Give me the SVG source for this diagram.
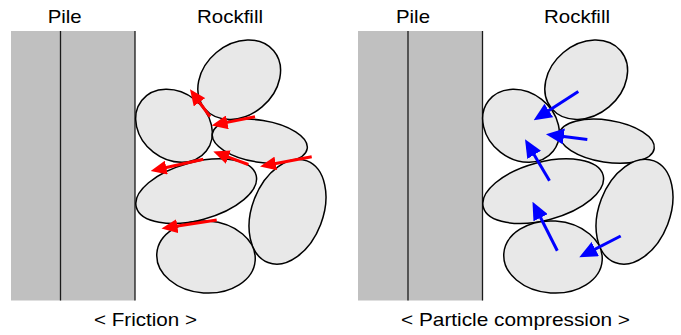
<svg xmlns="http://www.w3.org/2000/svg" width="681" height="335" viewBox="0 0 681 335">
  <style>
    .label { font-family: "Liberation Sans", Arial, sans-serif; font-size: 18.5px; fill: #000; }
    .pile { fill: #c0c0c0; stroke: none; }
    .pile-line { stroke: #1a1a1a; stroke-width: 1.3; fill: none; }
    .rock { fill: #e8e8e8; stroke: #000; stroke-width: 1.5; }
    .fric { stroke: #ff0000; stroke-width: 3; fill: none; }
    .comp { stroke: #0000ff; stroke-width: 3; fill: none; }
  </style>
  <defs>
    <marker id="head-red" markerUnits="userSpaceOnUse" markerWidth="16" markerHeight="14" refX="8" refY="7" orient="auto">
      <path d="M0,0 L16,7 L0,14 z" fill="#ff0000"/>
    </marker>
    <marker id="head-blue" markerUnits="userSpaceOnUse" markerWidth="18" markerHeight="16" refX="10" refY="8" orient="auto">
      <path d="M0,0 L18,8 L0,16 z" fill="#0000ff"/>
    </marker>
    <!-- rock particle shapes, shared by both panels -->
    <ellipse id="shape-a" cx="239.2" cy="79.7" rx="45" ry="35.5" transform="rotate(-40 239.2 79.7)"/>
    <ellipse id="shape-b" cx="174" cy="125.8" rx="41" ry="33.5" transform="rotate(38 174 125.8)"/>
    <ellipse id="shape-c" cx="259.8" cy="141.2" rx="48" ry="21" transform="rotate(9 259.8 141.2)"/>
    <ellipse id="shape-d" cx="196.2" cy="191.2" rx="62" ry="29" transform="rotate(-15 196.2 191.2)"/>
    <ellipse id="shape-e" cx="287.5" cy="211.7" rx="54.4" ry="35.5" transform="rotate(-69 287.5 211.7)"/>
    <ellipse id="shape-f" cx="206" cy="257" rx="49.3" ry="36" transform="rotate(4 206 257)"/>
  </defs>

  <!-- left panel: friction -->
  <g id="friction-panel">
    <g id="pile-left">
      <rect class="pile" x="11" y="31" width="124" height="269.5"/>
      <line class="pile-line" x1="60.5" y1="31" x2="60.5" y2="300.5"/>
      <line class="pile-line" x1="135" y1="31" x2="135" y2="300.5"/>
    </g>
    <text class="label" x="47.7" y="23.3" textLength="34" lengthAdjust="spacingAndGlyphs">Pile</text>
    <text class="label" x="197" y="23.3" textLength="66" lengthAdjust="spacingAndGlyphs">Rockfill</text>
    <g id="rock-left-a"><use href="#shape-a" class="rock"/></g>
    <g id="rock-left-b"><use href="#shape-b" class="rock"/></g>
    <g id="rock-left-c"><use href="#shape-c" class="rock"/></g>
    <g id="rock-left-d"><use href="#shape-d" class="rock"/></g>
    <g id="rock-left-e"><use href="#shape-e" class="rock"/></g>
    <g id="rock-left-f"><use href="#shape-f" class="rock"/></g>
    <text class="label" x="94" y="326" textLength="103" lengthAdjust="spacingAndGlyphs">&lt; Friction &gt;</text>
  </g>

  <!-- right panel: particle compression -->
  <g id="compression-panel">
    <g id="pile-right">
      <rect class="pile" x="358" y="31" width="125" height="269.5"/>
      <line class="pile-line" x1="408" y1="31" x2="408" y2="300.5"/>
      <line class="pile-line" x1="482.5" y1="31" x2="482.5" y2="300.5"/>
    </g>
    <text class="label" x="396" y="23.3" textLength="34" lengthAdjust="spacingAndGlyphs">Pile</text>
    <text class="label" x="544" y="23.3" textLength="66" lengthAdjust="spacingAndGlyphs">Rockfill</text>
    <g transform="translate(347 0)">
      <g id="rock-right-a"><use href="#shape-a" class="rock"/></g>
      <g id="rock-right-b"><use href="#shape-b" class="rock"/></g>
      <g id="rock-right-c"><use href="#shape-c" class="rock"/></g>
      <g id="rock-right-d"><use href="#shape-d" class="rock"/></g>
      <g id="rock-right-e"><use href="#shape-e" class="rock"/></g>
      <g id="rock-right-f"><use href="#shape-f" class="rock"/></g>
    </g>
    <text class="label" x="401" y="326" textLength="229" lengthAdjust="spacingAndGlyphs">&lt; Particle compression &gt;</text>
  </g>

  <!-- force arrows -->
  <g id="arrows">
    <line class="fric" x1="210" y1="116.7" x2="194.7" y2="95.8" marker-end="url(#head-red)"/>
    <line class="fric" x1="255" y1="116.7" x2="219.5" y2="123.9" marker-end="url(#head-red)"/>
    <line class="fric" x1="203.3" y1="159.3" x2="158.5" y2="169.3" marker-end="url(#head-red)"/>
    <line class="fric" x1="248.3" y1="164.5" x2="220.8" y2="154.3" marker-end="url(#head-red)"/>
    <line class="fric" x1="311.7" y1="156.7" x2="267.9" y2="165" marker-end="url(#head-red)"/>
    <line class="fric" x1="216.7" y1="220" x2="169.4" y2="227.3" marker-end="url(#head-red)"/>

    <line class="comp" x1="578.3" y1="91.5" x2="540.4" y2="116" marker-end="url(#head-blue)"/>
    <line class="comp" x1="587.3" y1="139.5" x2="553.9" y2="135.2" marker-end="url(#head-blue)"/>
    <line class="comp" x1="549.5" y1="180.7" x2="529.1" y2="146.2" marker-end="url(#head-blue)"/>
    <line class="comp" x1="557.3" y1="250.8" x2="536.1" y2="208.8" marker-end="url(#head-blue)"/>
    <line class="comp" x1="620.7" y1="236" x2="586.4" y2="253.6" marker-end="url(#head-blue)"/>
  </g>
</svg>
